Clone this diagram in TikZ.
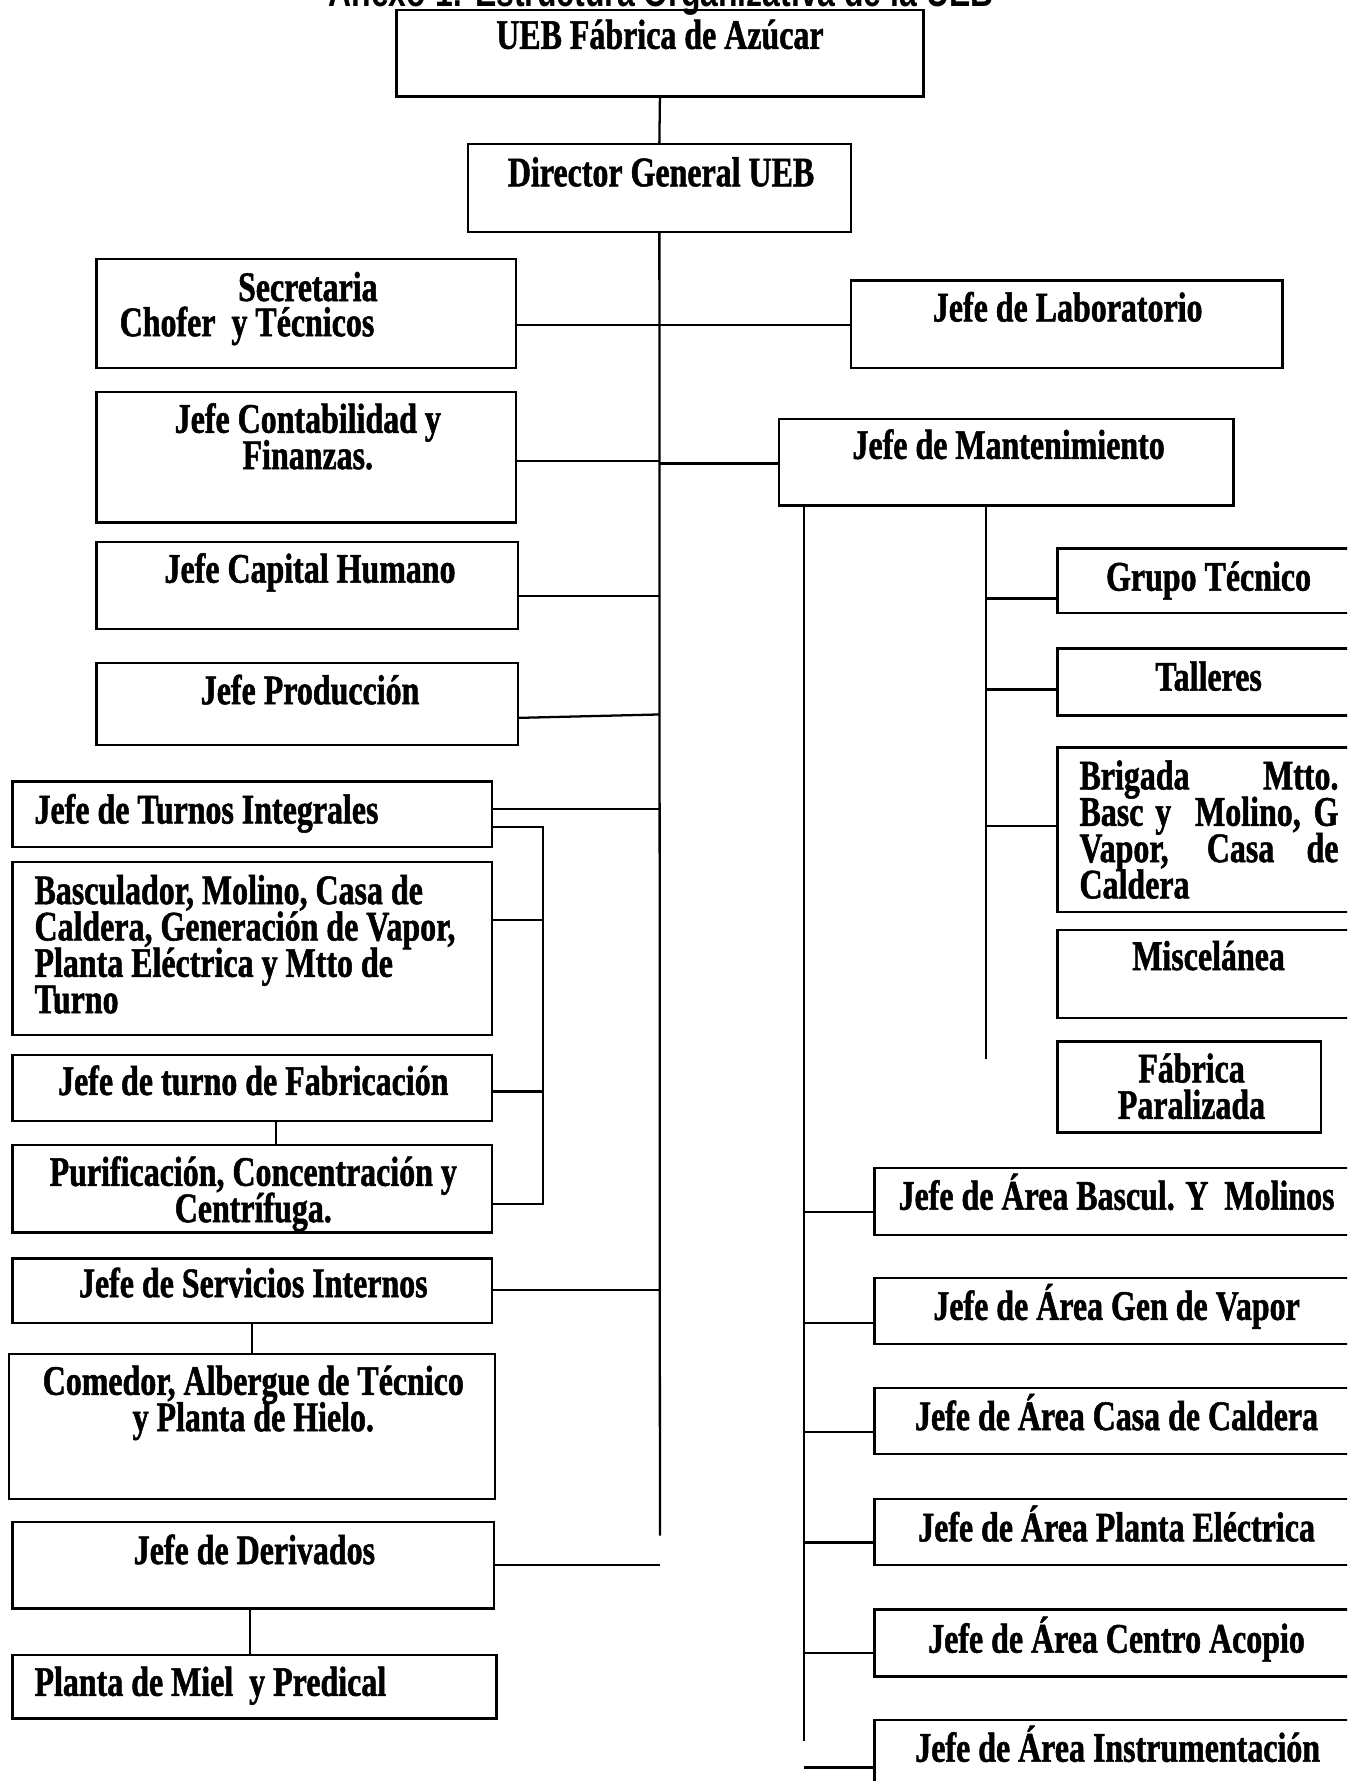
\documentclass[tikz,border=0pt]{standalone}
\usepackage{fontspec}
\setmainfont{Liberation Serif}[FakeStretch=0.76,FakeBold=1.2]
\newfontfamily\titlefont{Liberation Sans}[FakeStretch=0.76]
\usetikzlibrary{fit}
\newcommand\mlc[1]{\vtop{\baselineskip=16pt\lineskiplimit=-\maxdimen\lineskip=0pt\halign{\hfil##\hfil\cr#1\crcr}}}
\newcommand\mll[1]{\vtop{\baselineskip=16pt\lineskiplimit=-\maxdimen\lineskip=0pt\halign{##\hfil\cr#1\crcr}}}
\begin{document}
\begin{tikzpicture}[x=0.5pt,y=-0.5pt,
  box/.style={draw,line width=1pt,inner sep=0pt},
  ln/.style={line width=1pt},
  txt/.style={font=\fontsize{18.5}{16}\selectfont\bfseries,inner sep=0pt,anchor=base},
  ttl/.style={font=\titlefont\fontsize{18.5}{16}\selectfont\bfseries,inner sep=0pt,anchor=base}]
\useasboundingbox (0,0) rectangle (1186,1568);
\clip (0,0) rectangle (1186,1568);
% title (cut off at top)
\node[ttl] (title) at (582,6) {Anexo 1: Estructura Organizativa de la UEB};
% boxes
\node[box,fit={(349,9)(813,85)}] (ueb) {};
\node[box,fit={(412,127)(749,204)}] (dir) {};
\node[box,fit={(85,228)(454,324)}] (sec) {};
\node[box,fit={(749,247)(1129,324)}] (lab) {};
\node[box,fit={(85,345)(454,460)}] (cont) {};
\node[box,fit={(686,369)(1086,445)}] (mant) {};
\node[box,fit={(85,477)(456,554)}] (cap) {};
\node[box,fit={(85,584)(456,656)}] (prod) {};
\node[box,fit={(11,688)(433,746)}] (turn) {};
\node[box,fit={(11,759)(433,911)}] (basc) {};
\node[box,fit={(11,929)(433,987)}] (fab) {};
\node[box,fit={(11,1008)(433,1085)}] (puri) {};
\node[box,fit={(11,1108)(433,1165)}] (serv) {};
\node[box,fit={(8,1192)(436,1320)}] (come) {};
\node[box,fit={(11,1340)(435,1416)}] (deri) {};
\node[box,fit={(11,1457)(437,1513)}] (miel) {};
\node[box,fit={(931,483)(1200,540)}] (grupo) {};
\node[box,fit={(931,571)(1200,630)}] (tall) {};
\node[box,fit={(931,658)(1200,803)}] (brig) {};
\node[box,fit={(931,819)(1200,896)}] (misc) {};
\node[box,fit={(931,917)(1163,997)}] (fabp) {};
\node[box,fit={(770,1028)(1200,1087)}] (a1) {};
\node[box,fit={(770,1125)(1200,1183)}] (a2) {};
\node[box,fit={(770,1222)(1200,1280)}] (a3) {};
\node[box,fit={(770,1320)(1200,1378)}] (a4) {};
\node[box,fit={(770,1417)(1200,1476)}] (a5) {};
\node[box,fit={(770,1514)(1200,1590)}] (a6) {};
% texts
\node[txt] (uebT) at (581,43) {UEB Fábrica de Azúcar};
\node[txt] (dirT) at (582,164) {Director General UEB};
\node[txt] (secT1) at (271,265) {Secretaria};
\node[txt,anchor=base west] (secT2) at (105,296) {Chofer\ \ y Técnicos};
\node[txt] (labT) at (940,283) {Jefe de Laboratorio};
\node[txt] (contT) at (271,381) {\mlc{Jefe Contabilidad y\cr Finanzas.}};
\node[txt] (mantT) at (888,404) {Jefe de Mantenimiento};
\node[txt] (capT) at (273,513) {Jefe Capital Humano};
\node[txt] (prodT) at (273,620) {Jefe Producción};
\node[txt,anchor=base west] (turnT) at (30,725) {Jefe de Turnos Integrales};
\node[txt,anchor=base west] (bascT) at (30,796) {\mll{Basculador, Molino, Casa de\cr Caldera, Generación de Vapor,\cr Planta Eléctrica y Mtto de\cr Turno}};
\node[txt] (fabT) at (223,964) {Jefe de turno de Fabricación};
\node[txt] (puriT) at (223,1044) {\mlc{Purificación, Concentración y\cr Centrífuga.}};
\node[txt] (servT) at (223,1142) {Jefe de Servicios Internos};
\node[txt] (comeT) at (223,1228) {\mlc{Comedor, Albergue de Técnico\cr y Planta de Hielo.}};
\node[txt] (deriT) at (224,1377) {Jefe de Derivados};
\node[txt,anchor=base west] (mielT) at (30,1493) {Planta de Miel\ \ y Predical};
\node[txt] (grupoT) at (1064,520) {Grupo Técnico};
\node[txt] (tallT) at (1064,608) {Talleres};
\node[txt,anchor=base west] (brigT) at (950,695) {\mll{\makebox[114pt][s]{Brigada Mtto.}\cr \makebox[114pt][s]{Basc y\ \ Molino, G}\cr \makebox[114pt][s]{Vapor, Casa de}\cr Caldera}};
\node[txt] (miscT) at (1064,854) {Miscelánea};
\node[txt] (fabpT) at (1049,953) {\mlc{Fábrica\cr Paralizada}};
\node[txt] (a1T) at (983,1065) {Jefe de Área Bascul. Y\ \ Molinos};
\node[txt] (a2T) at (983,1162) {Jefe de Área Gen de Vapor};
\node[txt] (a3T) at (983,1259) {Jefe de Área Casa de Caldera};
\node[txt] (a4T) at (983,1357) {Jefe de Área Planta Eléctrica};
\node[txt] (a5T) at (983,1455) {Jefe de Área Centro Acopio};
\node[txt] (a6T) at (984,1551) {Jefe de Área Instrumentación};
% connectors
\coordinate (trunk) at (581,1352);
\coordinate (br) at (478,0);
\coordinate (m1) at (708,1533);
\coordinate (m2) at (868,932);
\draw[ln] (ueb.south) -- (dir.north);
\draw[ln] (dir.south) -- (trunk);
\draw[ln] (sec.east |- 0,286) -- (lab.west |- 0,286);
\draw[ln] (cont.east |- 0,406) -- (trunk |- 0,406);
\draw[ln] (trunk |- 0,408) -- (mant.west |- 0,408);
\draw[ln] (cap.east |- 0,525) -- (trunk |- 0,525);
\draw[ln] (prod.east |- 0,632) -- (trunk |- 0,629);
\draw[ln] (turn.east |- 0,712) -- (trunk |- 0,712);
\draw[ln] (turn.east |- 0,728) -- (br |- 0,728) -- (br |- 0,1060) -- (puri.east |- 0,1060);
\draw[ln] (basc.east |- 0,810) -- (br |- 0,810);
\draw[ln] (fab.east |- 0,961) -- (br |- 0,961);
\draw[ln] (fab.south -| 243,0) -- (puri.north -| 243,0);
\draw[ln] (serv.east |- 0,1136) -- (trunk |- 0,1136);
\draw[ln] (serv.south -| 222,0) -- (come.north -| 222,0);
\draw[ln] (deri.east |- 0,1378) -- (trunk |- 0,1378);
\draw[ln] (deri.south -| 220,0) -- (miel.north -| 220,0);
\draw[ln] (mant.south -| m1) -- (m1);
\draw[ln] (mant.south -| m2) -- (m2);
\draw[ln] (m2 |- 0,527) -- (grupo.west |- 0,527);
\draw[ln] (m2 |- 0,607) -- (tall.west |- 0,607);
\draw[ln] (m2 |- 0,727) -- (brig.west |- 0,727);
\draw[ln] (m1 |- 0,1067) -- (a1.west |- 0,1067);
\draw[ln] (m1 |- 0,1165) -- (a2.west |- 0,1165);
\draw[ln] (m1 |- 0,1261) -- (a3.west |- 0,1261);
\draw[ln] (m1 |- 0,1358) -- (a4.west |- 0,1358);
\draw[ln] (m1 |- 0,1455) -- (a5.west |- 0,1455);
\draw[ln] (m1 |- 0,1556) -- (a6.west |- 0,1556);
\end{tikzpicture}
\end{document}
